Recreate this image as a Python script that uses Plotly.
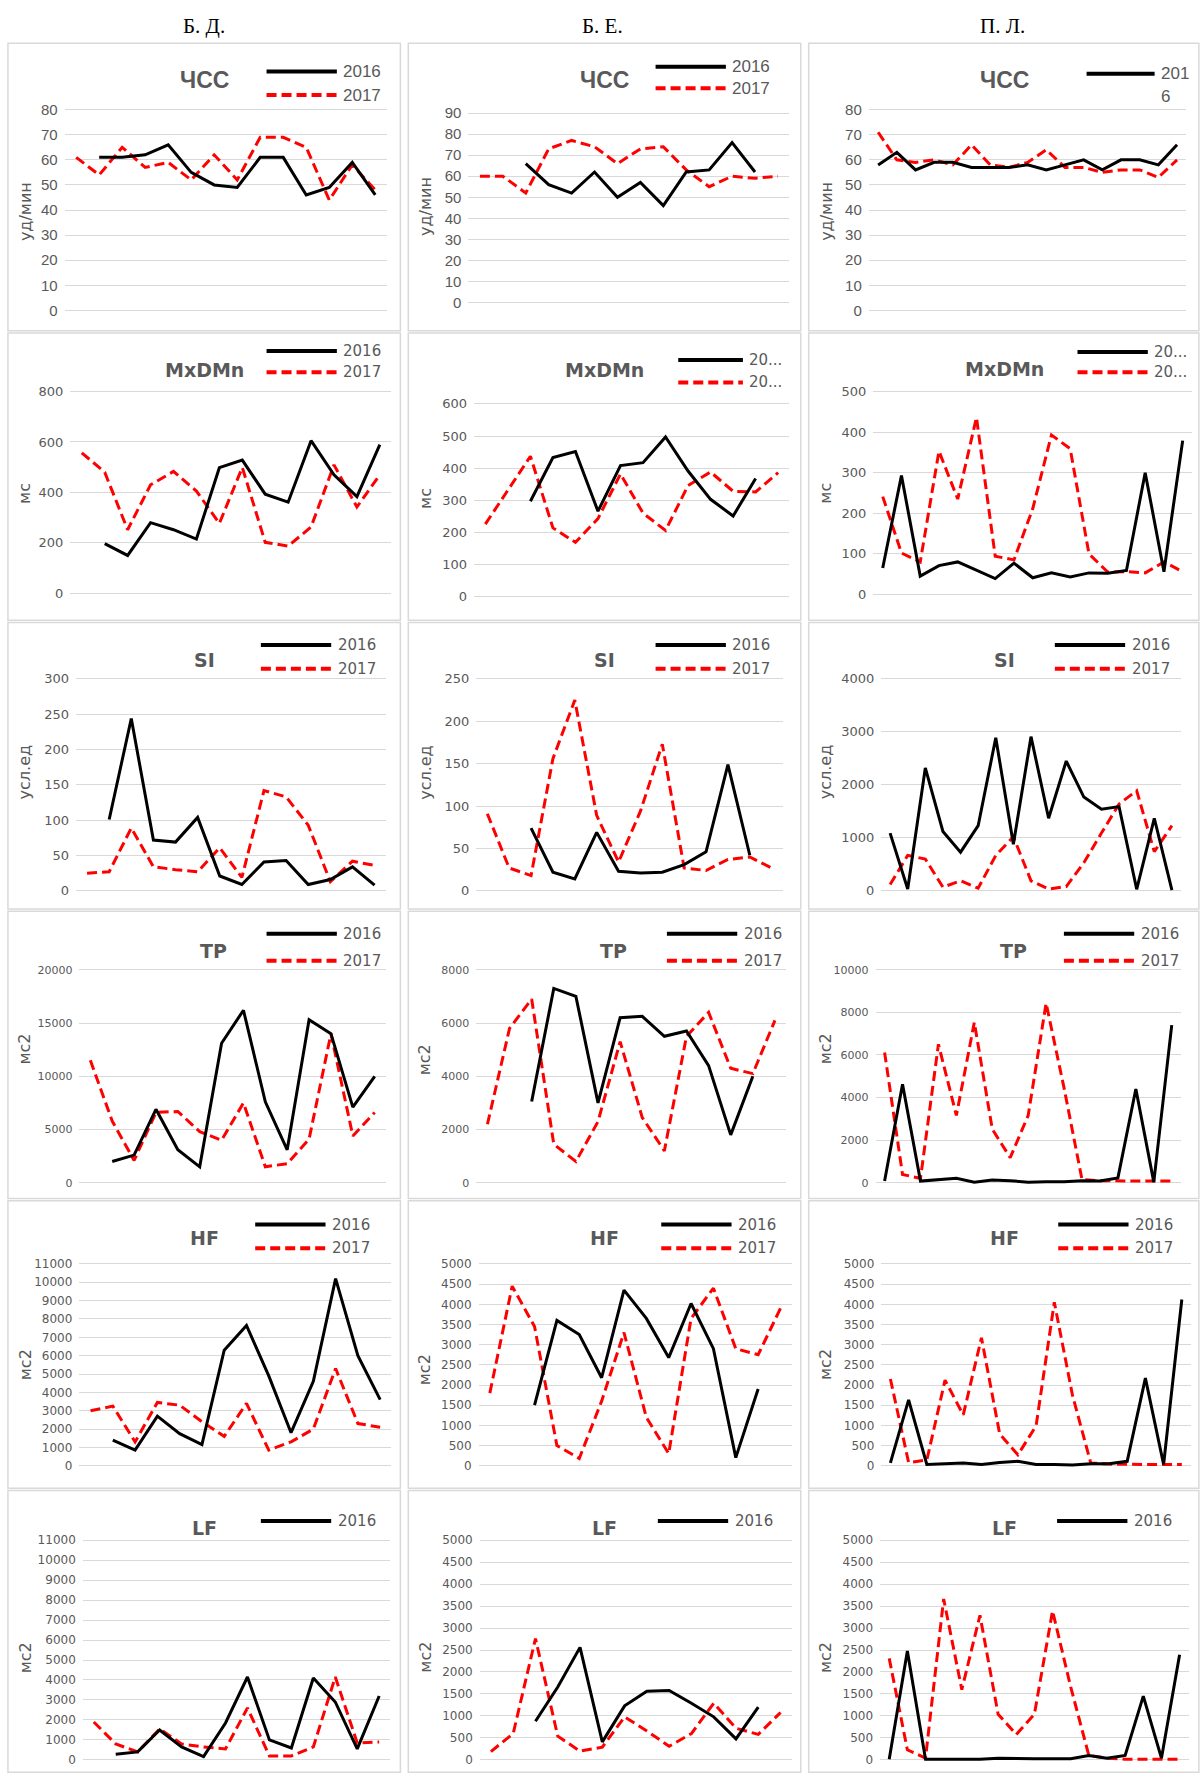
import plotly.graph_objects as go

# ---------------- data ----------------
people = ["Б. Д.", "Б. Е.", "П. Л."]
params = ["ЧСС", "MxDMn", "SI", "TP", "HF", "LF"]
units = ["уд/мин", "мс", "усл.ед", "мс2", "мс2", "мс2"]

cats_bd = list(range(1, 15))
cats_be = list(range(1, 15))
cats_pl = list(range(1, 18))

# Б. Д.
bd_chss_2016 = [None, 61, 61, 62, 66, 55, 50, 49, 61, 61, 46, 49, 59, 46]
bd_chss_2017 = [61, 54, 65, 57, 59, 52, 62, 52, 69, 69, 65, 44, 58, 48]
bd_mxdmn_2016 = [None, 197, 150, 280, 252, 215, 498, 528, 393, 361, 605, 470, 383, 589]
bd_mxdmn_2017 = [557, 480, 252, 430, 483, 405, 277, 499, 202, 187, 263, 509, 342, 470]
bd_si_2016 = [None, 101, 244, 72, 69, 104, 21, 9, 41, 43, 9, 16, 34, 8]
bd_si_2017 = [25, 27, 89, 34, 30, 27, 61, 19, 142, 133, 93, 13, 42, 36]
bd_tp_2016 = [None, 2000, 2600, 6900, 3100, 1500, 13100, 16200, 7600, 3100, 15300, 14000, 7100, 10000]
bd_tp_2017 = [11500, 5800, 2100, 6600, 6700, 4800, 4000, 7500, 1500, 1800, 4100, 14000, 4400, 6600]
bd_hf_2016 = [None, 1400, 850, 2700, 1750, 1150, 6300, 7650, 4900, 1800, 4600, 10200, 6000, 3600]
bd_hf_2017 = [3000, 3250, 1300, 3450, 3300, 2400, 1600, 3400, 850, 1300, 2000, 5300, 2300, 2100]
bd_lf_2016 = [None, 280, 400, 1500, 650, 170, 1850, 4150, 1000, 600, 4100, 2900, 550, 3200]
bd_lf_2017 = [1900, 800, 400, 1550, 800, 650, 550, 2600, 200, 200, 650, 4150, 850, 900]

# Б. Е.
be_chss_2016 = [None, None, 66, 56, 52, 62, 50, 57, 46, 62, 63, 76, 62, None]
be_chss_2017 = [60, 60, 52, 73, 77, 74, 66, 73, 74, 63, 55, 60, 59, 60]
be_mxdmn_2016 = [None, None, 297, 433, 452, 266, 408, 417, 497, 391, 303, 251, 368, None]
be_mxdmn_2017 = [226, 330, 437, 214, 169, 243, 382, 260, 206, 346, 388, 328, 326, 386]
be_si_2016 = [None, None, 74, 22, 14, 69, 23, 21, 22, 31, 46, 149, 42, None]
be_si_2017 = [91, 27, 18, 156, 225, 89, 34, 94, 173, 27, 24, 37, 40, 27]
be_tp_2016 = [None, None, 3050, 7300, 7000, 3000, 6200, 6250, 5500, 5700, 4400, 1800, 4000, None]
be_tp_2017 = [2200, 5800, 6900, 1450, 800, 2300, 5300, 2450, 1200, 5500, 6400, 4300, 4100, 6100]
be_hf_2016 = [None, None, 1500, 3600, 3250, 2180, 4350, 3650, 2680, 4020, 2900, 200, 1900, None]
be_hf_2017 = [1800, 4450, 3450, 500, 180, 1600, 3300, 1200, 300, 3650, 4400, 2900, 2750, 3900]
be_lf_2016 = [None, None, 880, 1660, 2560, 410, 1230, 1560, 1580, 1290, 980, 480, 1200, None]
be_lf_2017 = [190, 600, 2760, 540, 200, 290, 980, 660, 310, 600, 1290, 720, 580, 1080]

# П. Л.
pl_chss_2016 = [58, 63, 56, 59, 59, 57, 57, 57, 58, 56, 58, 60, 56, 60, 60, 58, 66]
pl_chss_2017 = [71, 60, 59, 60, 58, 66, 58, 57, 59, 64, 57, 57, 55, 56, 56, 53, 60]
pl_mxdmn_2016 = [65, 293, 45, 71, 80, 59, 39, 77, 41, 53, 43, 53, 52, 59, 300, 56, 379]
pl_mxdmn_2017 = [241, 102, 80, 353, 235, 436, 94, 85, 211, 393, 359, 100, 55, 56, 53, 80, 56]
pl_si_2016 = [1090, 35, 2320, 1120, 730, 1230, 2890, 880, 2910, 1370, 2450, 1770, 1540, 1590, 30, 1370, 15]
pl_si_2017 = [120, 670, 600, 70, 190, 50, 670, 1020, 190, 35, 80, 530, 1090, 1640, 1890, 740, 1230]
pl_tp_2016 = [80, 4630, 80, 130, 210, 30, 130, 100, 30, 50, 50, 100, 80, 230, 4400, 30, 7400]
pl_tp_2017 = [6120, 390, 210, 6500, 3160, 7530, 2520, 1180, 3160, 8430, 4450, 150, 100, 80, 80, 80, 80]
pl_hf_2016 = [70, 1630, 30, 50, 70, 30, 80, 110, 30, 30, 15, 50, 50, 110, 2170, 30, 4120]
pl_hf_2017 = [2150, 80, 140, 2120, 1260, 3170, 790, 270, 990, 4050, 1740, 70, 40, 30, 30, 30, 30]
pl_lf_2016 = [15, 2480, 15, 15, 15, 15, 40, 25, 25, 25, 25, 100, 40, 100, 1450, 40, 2390]
pl_lf_2017 = [2310, 230, 40, 3660, 1600, 3290, 1040, 580, 1040, 3390, 1660, 100, 40, 15, 15, 15, 15]

y_max = [[80, 90, 80], [800, 600, 500], [300, 250, 4000],
         [20000, 8000, 10000], [11000, 5000, 5000], [11000, 5000, 5000]]
y_step = [[10, 10, 10], [200, 100, 100], [50, 50, 1000],
          [5000, 2000, 2000], [1000, 500, 500], [1000, 500, 500]]

cats = [cats_bd, cats_be, cats_pl]
series = [
    [(bd_chss_2016, bd_chss_2017), (be_chss_2016, be_chss_2017), (pl_chss_2016, pl_chss_2017)],
    [(bd_mxdmn_2016, bd_mxdmn_2017), (be_mxdmn_2016, be_mxdmn_2017), (pl_mxdmn_2016, pl_mxdmn_2017)],
    [(bd_si_2016, bd_si_2017), (be_si_2016, be_si_2017), (pl_si_2016, pl_si_2017)],
    [(bd_tp_2016, bd_tp_2017), (be_tp_2016, be_tp_2017), (pl_tp_2016, pl_tp_2017)],
    [(bd_hf_2016, bd_hf_2017), (be_hf_2016, be_hf_2017), (pl_hf_2016, pl_hf_2017)],
    [(bd_lf_2016, bd_lf_2017), (be_lf_2016, be_lf_2017), (pl_lf_2016, pl_lf_2017)],
]

# ---------------- layout geometry (reference px at 1058 wide) ----------------
W, H = 1200, 1778
S = W / 1058.0


def fx(v):
    return v * S / W


def fy(v):
    return 1 - v * S / H


box_x = [(7, 353), (360, 706), (713, 1057)]
box_y = [(33, 288), (290, 545), (547, 801), (803, 1058), (1060, 1315), (1317, 1567)]

grid_x = [[(57, 341), (413, 696), (766, 1046)],
          [(62, 345), (418, 696), (770, 1051)],
          [(67, 340), (420, 690), (777, 1041)],
          [(70, 340), (420, 693), (772, 1041)],
          [(70, 345), (422, 698), (777, 1050)],
          [(73, 344), (423, 698), (776, 1048)]]
grid_y = [[(92, 270), (95, 263), (92, 270)],
          [(342, 521), (353, 524), (342, 522)],
          [(597, 785)] * 3,
          [(855, 1044)] * 3,
          [(1116, 1295)] * 3,
          [(1361, 1556)] * 3]

title_pos = [[(180, 66), (533, 66), (886, 66)],
             [(180, 323), (533, 323), (886, 322)],
             [(180, 580), (533, 580), (886, 580)],
             [(188, 838), (541, 838), (894, 838)],
             [(180, 1093), (533, 1093), (886, 1093)],
             [(180, 1350), (533, 1350), (886, 1350)]]

ytitle_y = [[182, 178, 182], [432, 437, 432], [680, 680, 680],
            [925, 935, 925], [1205, 1210, 1205], [1465, 1465, 1465]]

# legend: x0, x1, y2016, y2017, label2016, label2017
legend_spec = [
    [(235, 297, 58, 79, "2016", "2017"), (578, 640, 54, 73, "2016", "2017"), (958, 1018, 60, None, "201", None)],
    [(235, 297, 306, 325, "2016", "2017"), (598, 655, 314, 334, "20...", "20..."), (950, 1012, 307, 325, "20...", "20...")],
    [(230, 292, 567, 588, "2016", "2017"), (578, 640, 567, 588, "2016", "2017"), (930, 992, 567, 588, "2016", "2017")],
    [(235, 297, 823, 847, "2016", "2017"), (588, 650, 823, 847, "2016", "2017"), (938, 1000, 823, 847, "2016", "2017")],
    [(225, 287, 1081, 1102, "2016", "2017"), (583, 645, 1081, 1102, "2016", "2017"), (933, 995, 1081, 1102, "2016", "2017")],
    [(230, 292, 1344, None, "2016", None), (580, 642, 1344, None, "2016", None), (932, 994, 1344, None, "2016", None)],
]

tick_size = [15, 13, 13, 11, 12, 12]
GRAY = "#595959"
NARROW = "Liberation Sans Narrow, Liberation Sans, Arial, sans-serif"
SANS = "DejaVu Sans, Verdana, sans-serif"
RED = "#FF0000"
DASH = "10px,5px"

fig = go.Figure()
shapes = []
annotations = []
layout = dict(
    width=W, height=H,
    margin=dict(l=0, r=0, t=0, b=0),
    paper_bgcolor="white", plot_bgcolor="white",
    showlegend=False,
)

# column headers
for c, name in enumerate(people):
    cx = [180, 531, 884][c]
    annotations.append(dict(x=fx(cx), y=fy(18), xref="paper", yref="paper",
                            text=name, showarrow=False,
                            font=dict(family="Liberation Serif, Times New Roman, serif", size=21, color="black"),
                            xanchor="center", yanchor="middle"))

pad = 3 / S
for r in range(6):
    for c in range(3):
        k = r * 3 + c + 1
        xa = "x" if k == 1 else f"x{k}"
        ya = "y" if k == 1 else f"y{k}"
        x0, x1 = grid_x[r][c]
        ytop, ybot = grid_y[r][c]
        ymax = y_max[r][c]
        h = ybot - ytop
        n = len(cats[c])
        fam = NARROW if r == 0 else SANS

        # panel frame
        bx0, bx1 = box_x[c]
        by0, by1 = box_y[r]
        shapes.append(dict(type="rect", xref="paper", yref="paper",
                           x0=fx(bx0), x1=fx(bx1), y0=fy(by1), y1=fy(by0),
                           line=dict(color="#D9D9D9", width=1.5), fillcolor="rgba(0,0,0,0)", layer="below"))

        layout["xaxis" + ("" if k == 1 else str(k))] = dict(
            domain=[fx(x0), fx(x1)], range=[0.5, n + 0.5], anchor=ya,
            showgrid=False, zeroline=False, showticklabels=False, showline=False,
            fixedrange=True)
        layout["yaxis" + ("" if k == 1 else str(k))] = dict(
            domain=[fy(ybot + pad), fy(ytop - pad)],
            range=[-ymax * pad / h, ymax * (1 + pad / h)], anchor=xa,
            tickvals=list(range(0, ymax + 1, y_step[r][c])),
            tickformat="d",
            showgrid=True, gridcolor="#D9D9D9", gridwidth=1,
            zeroline=False, showline=False, ticks="",
            tickfont=dict(family=fam, size=tick_size[r], color=GRAY),
            ticklabelstandoff=6, fixedrange=True)

        s16, s17 = series[r][c]
        fig.add_trace(go.Scatter(x=cats[c], y=s17, xaxis=xa, yaxis=ya, mode="lines",
                                 name="2017", line=dict(color=RED, width=3, dash=DASH)))
        fig.add_trace(go.Scatter(x=cats[c], y=s16, xaxis=xa, yaxis=ya, mode="lines",
                                 name="2016", line=dict(color="black", width=3)))

        # panel title
        tx, ty = title_pos[r][c]
        annotations.append(dict(x=fx(tx), y=fy(ty), xref="paper", yref="paper",
                                text="<b>%s</b>" % params[r], showarrow=False,
                                font=dict(family=(NARROW if r == 0 else SANS), size=(23 if r == 0 else 19), color=GRAY),
                                xanchor="center", yanchor="middle"))
        # y axis title
        annotations.append(dict(x=fx(bx0 + 15), y=fy(ytitle_y[r][c]), xref="paper", yref="paper",
                                text=units[r], showarrow=False, textangle=-90,
                                font=dict(family=SANS, size=16, color=GRAY),
                                xanchor="center", yanchor="middle"))

        # legend
        lx0, lx1, ly16, ly17, lab16, lab17 = legend_spec[r][c]
        lsize = 17 if r == 0 else 15
        shapes.append(dict(type="line", xref="paper", yref="paper",
                           x0=fx(lx0), x1=fx(lx1), y0=fy(ly16), y1=fy(ly16),
                           line=dict(color="black", width=4)))
        annotations.append(dict(x=fx(lx1 + 4), y=fy(ly16), xref="paper", yref="paper",
                                text=lab16, showarrow=False, align="left",
                                font=dict(family=fam, size=lsize, color=GRAY),
                                xanchor="left", yanchor="middle"))
        if r == 0 and c == 2:
            annotations.append(dict(x=fx(lx1 + 4), y=fy(ly16 + 20), xref="paper", yref="paper",
                                    text="6", showarrow=False,
                                    font=dict(family=fam, size=lsize, color=GRAY),
                                    xanchor="left", yanchor="middle"))
        if ly17 is not None:
            shapes.append(dict(type="line", xref="paper", yref="paper",
                               x0=fx(lx0), x1=fx(lx1), y0=fy(ly17), y1=fy(ly17),
                               line=dict(color=RED, width=4, dash=DASH)))
            annotations.append(dict(x=fx(lx1 + 4), y=fy(ly17), xref="paper", yref="paper",
                                    text=lab17, showarrow=False,
                                    font=dict(family=fam, size=lsize, color=GRAY),
                                    xanchor="left", yanchor="middle"))

layout["shapes"] = shapes
layout["annotations"] = annotations
fig.update_layout(**layout)
fig.write_html("out.html",
               config={"displayModeBar": False},
               post_script="document.body.style.margin='0';document.body.style.padding='0';")
